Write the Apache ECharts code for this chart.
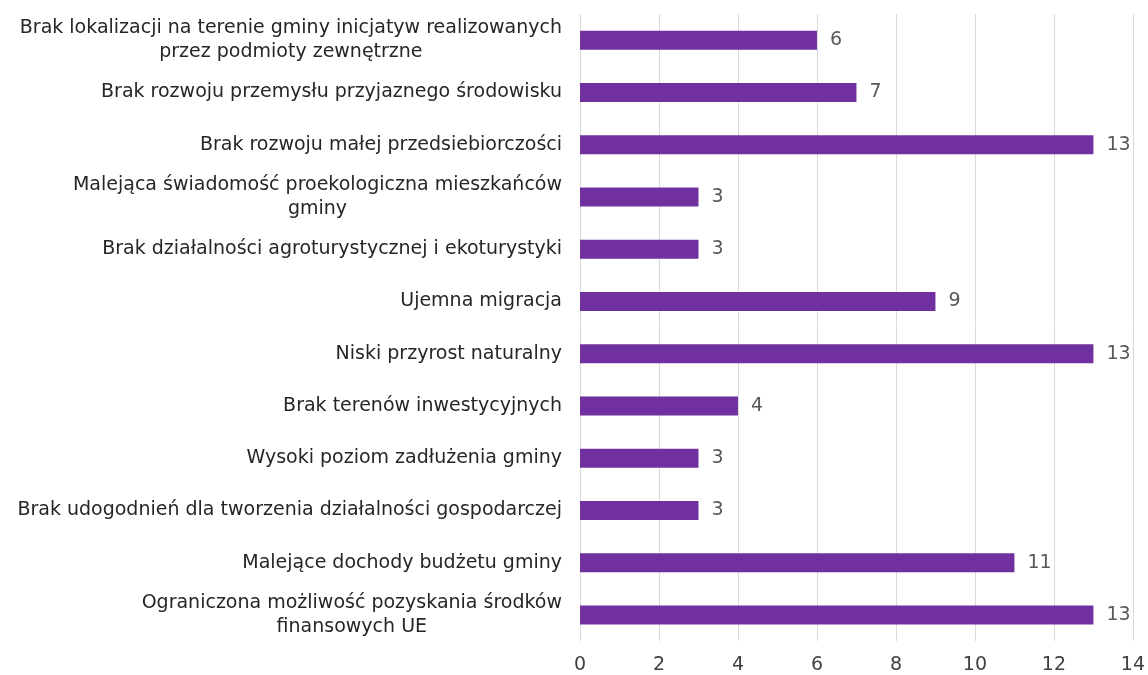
<!DOCTYPE html>
<html><head><meta charset="utf-8">
<script src="https://cdn.jsdelivr.net/npm/echarts@6/dist/echarts.min.js"></script>
<style>html,body{margin:0;padding:0;background:#fff}#c{width:1148px;height:675px}</style>
</head><body><div id="c"></div>
<script>
// top to bottom as in the picture
const categories = [
  "Brak lokalizacji na terenie gminy inicjatyw realizowanych\nprzez podmioty zewnętrzne",
  "Brak rozwoju przemysłu przyjaznego środowisku",
  "Brak rozwoju małej przedsiebiorczości",
  "Malejąca świadomość proekologiczna mieszkańców\ngminy",
  "Brak działalności agroturystycznej i ekoturystyki",
  "Ujemna migracja",
  "Niski przyrost naturalny",
  "Brak terenów inwestycyjnych",
  "Wysoki poziom zadłużenia gminy",
  "Brak udogodnień dla tworzenia działalności gospodarczej",
  "Malejące dochody budżetu gminy",
  "Ograniczona możliwość pozyskania środków\nfinansowych UE"
];
const values = [6, 7, 13, 3, 3, 9, 13, 4, 3, 3, 11, 13];
const axisMin = 0, axisMax = 14, axisStep = 2;

const font = "DejaVu Sans";
const fs = 19;
const chart = echarts.init(document.getElementById('c'), null, {renderer: 'canvas'});
chart.setOption({
  animation: false,
  grid: {left: 580, right: 15, top: 14, bottom: 33, containLabel: false},
  xAxis: {
    type: 'value', min: axisMin, max: axisMax, interval: axisStep,
    axisLine: {show: false}, axisTick: {show: false},
    splitLine: {show: true, lineStyle: {color: '#d9d9d9', width: 1}},
    axisLabel: {color: '#404040', fontFamily: font, fontSize: fs, margin: 15}
  },
  yAxis: {
    type: 'category', data: categories, inverse: true,
    axisLine: {show: false}, axisTick: {show: false},
    axisLabel: {
      color: '#262626', fontFamily: font, fontSize: fs, margin: 18, lineHeight: 24,
      formatter: v => v.split('\n').map(l => '{c|' + l + '}').join('\n'),
      rich: {c: {align: 'center', color: '#262626', fontFamily: font, fontSize: fs, lineHeight: 24}}
    }
  },
  series: [{
    type: 'bar', data: values, barWidth: 19,
    itemStyle: {color: '#7030A0'},
    label: {show: true, position: 'right', distance: 13, color: '#595959', fontFamily: font, fontSize: fs}
  }]
});
</script></body></html>
